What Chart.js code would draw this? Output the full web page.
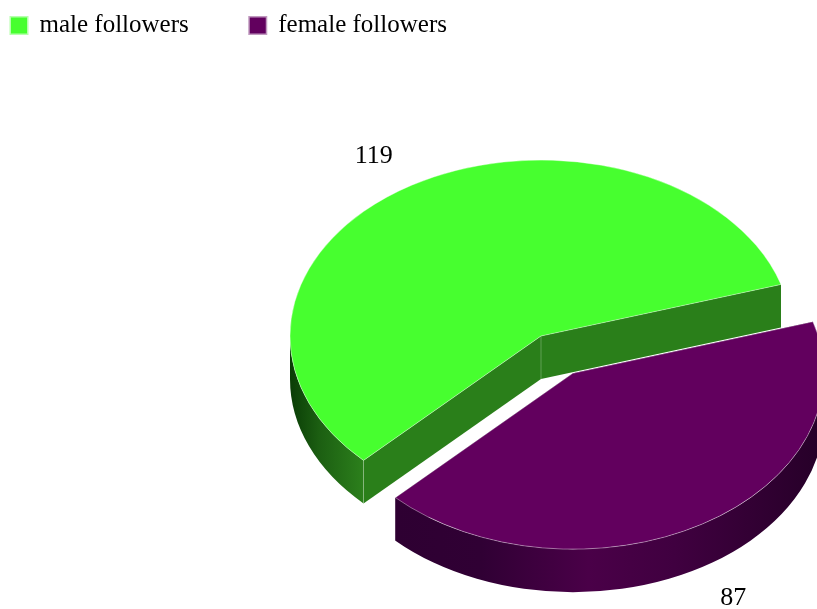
<!DOCTYPE html>
<html>
<head>
<meta charset="utf-8">
<title>followers</title>
<script src="https://cdn.jsdelivr.net/npm/chart.js@4"></script>
<style>
  html, body { margin: 0; padding: 0; background: #fff; }
  canvas { display: block; }
</style>
</head>
<body>
<canvas id="pie" width="817" height="609"></canvas>
<script>
const categories = ['male followers', 'female followers'];
const followers = [119, 87];
const sliceColors = ['#47ff2f', '#62005e'];

// pie look: flattened circle with a wall below it
const squash = 0.701;
const wallDepth = 43;
const pieRadius = 251;
const pieCenterY = 336;
const explode = [0, 62];
const cutWallColors = ['#2a7f1a', '#2e0032'];
const rimStops = [
  [[0, '#0a3d06'], [0.4, '#1c5f12'], [1, '#2c801c']],
  [[0, '#2e0032'], [0.2, '#300034'], [0.45, '#4a0048'], [0.65, '#400040'], [1, '#260028']]
];
const labelRadius = 305;
const labelNudge = [[-10, 3], [3, -1]];

function midAngle(arc) {
  return (arc.startAngle + arc.endAngle) / 2;
}

// front facing part of the outer edge
function drawRim(ctx, arc, depth, stops) {
  const r = arc.outerRadius;
  for (let k = -1; k <= 2; k++) {
    const a0 = Math.max(arc.startAngle, k * 2 * Math.PI);
    const a1 = Math.min(arc.endAngle, k * 2 * Math.PI + Math.PI);
    if (a1 <= a0) continue;
    // x runs right to left along the front, shading is set left to right
    const grad = ctx.createLinearGradient(arc.x + r * Math.cos(a1), 0, arc.x + r * Math.cos(a0), 0);
    stops.forEach(s => grad.addColorStop(s[0], s[1]));
    ctx.fillStyle = grad;
    ctx.beginPath();
    ctx.arc(arc.x, arc.y, r, a0, a1);
    ctx.arc(arc.x, arc.y + depth, r, a1, a0, true);
    ctx.closePath();
    ctx.fill();
  }
}

// flat faces along the two cut edges of a slice
function drawCutWall(ctx, arc, angle, depth, color) {
  const ex = arc.x + arc.outerRadius * Math.cos(angle);
  const ey = arc.y + arc.outerRadius * Math.sin(angle);
  ctx.fillStyle = color;
  ctx.beginPath();
  ctx.moveTo(arc.x, arc.y);
  ctx.lineTo(ex, ey);
  ctx.lineTo(ex, ey + depth);
  ctx.lineTo(arc.x, arc.y + depth);
  ctx.closePath();
  ctx.fill();
}

const pie3d = {
  id: 'pie3d',
  afterLayout(chart) {
    // tuck the legend's outer padding away, the padding is only wanted between items
    const pad = chart.legend.options.labels.padding;
    chart.legend.left = 11 - pad;
    chart.legend.top = 13 - pad;
    chart.legend.bottom = 50;
  },
  afterDatasetsUpdate(chart) {
    chart.getDatasetMeta(0).data.forEach((arc, i) => {
      const a = midAngle(arc);
      arc.x += Math.cos(a) * explode[i];
      arc.y += Math.sin(a) * explode[i];
    });
  },
  beforeDatasetsDraw(chart) {
    const ctx = chart.ctx;
    const area = chart.chartArea;
    const baseY = (area.top + area.bottom) / 2;
    const depth = wallDepth / squash;
    ctx.save();
    ctx.translate(0, pieCenterY);
    ctx.scale(1, squash);
    ctx.translate(0, -baseY);
    chart.getDatasetMeta(0).data.forEach((arc, i) => {
      drawCutWall(ctx, arc, arc.startAngle, depth, cutWallColors[i]);
      drawCutWall(ctx, arc, arc.endAngle, depth, cutWallColors[i]);
      drawRim(ctx, arc, depth, rimStops[i]);
    });
    // edge lines where the walls meet
    const first = chart.getDatasetMeta(0).data[0];
    ctx.strokeStyle = 'rgba(255,255,255,0.3)';
    ctx.lineWidth = 1;
    ctx.beginPath();
    ctx.moveTo(first.x, first.y);
    ctx.lineTo(first.x, first.y + depth);
    const sx = first.x + first.outerRadius * Math.cos(first.startAngle);
    const sy = first.y + first.outerRadius * Math.sin(first.startAngle);
    ctx.moveTo(sx, sy);
    ctx.lineTo(sx, sy + depth);
    ctx.stroke();
  },
  afterDatasetsDraw(chart) {
    const ctx = chart.ctx;
    const area = chart.chartArea;
    const baseY = (area.top + area.bottom) / 2;
    ctx.restore();
    ctx.save();
    ctx.font = '26px "Liberation Serif"';
    ctx.fillStyle = '#000';
    ctx.textAlign = 'center';
    ctx.textBaseline = 'middle';
    chart.getDatasetMeta(0).data.forEach((arc, i) => {
      const a = midAngle(arc);
      const lx = arc.x + Math.cos(a) * labelRadius;
      let ly = pieCenterY + (arc.y - baseY + Math.sin(a) * labelRadius) * squash;
      if (Math.sin(a) > 0) ly += wallDepth;
      ctx.fillText(String(followers[i]), lx + labelNudge[i][0], ly + labelNudge[i][1]);
    });
    ctx.restore();
  }
};

new Chart(document.getElementById('pie'), {
  type: 'pie',
  data: {
    labels: categories,
    datasets: [{
      data: followers,
      backgroundColor: sliceColors,
      borderColor: 'rgba(255,255,255,0.45)',
      borderWidth: 1,
      clip: false
    }]
  },
  options: {
    responsive: false,
    animation: false,
    rotation: 225,
    radius: pieRadius,
    layout: { padding: { left: 265 } },
    plugins: {
      tooltip: { enabled: false },
      legend: {
        position: 'top',
        align: 'start',
        labels: {
          boxWidth: 16,
          boxHeight: 16,
          padding: 61,
          color: '#000',
          font: { family: '"Liberation Serif"', size: 25 },
          generateLabels(chart) {
            const items = Chart.overrides.pie.plugins.legend.labels.generateLabels(chart);
            items.forEach((item, i) => {
              item.strokeStyle = sliceColors[i] + '66';
              item.lineWidth = 3;
            });
            return items;
          }
        }
      }
    }
  },
  plugins: [pie3d]
});
</script>
</body>
</html>
